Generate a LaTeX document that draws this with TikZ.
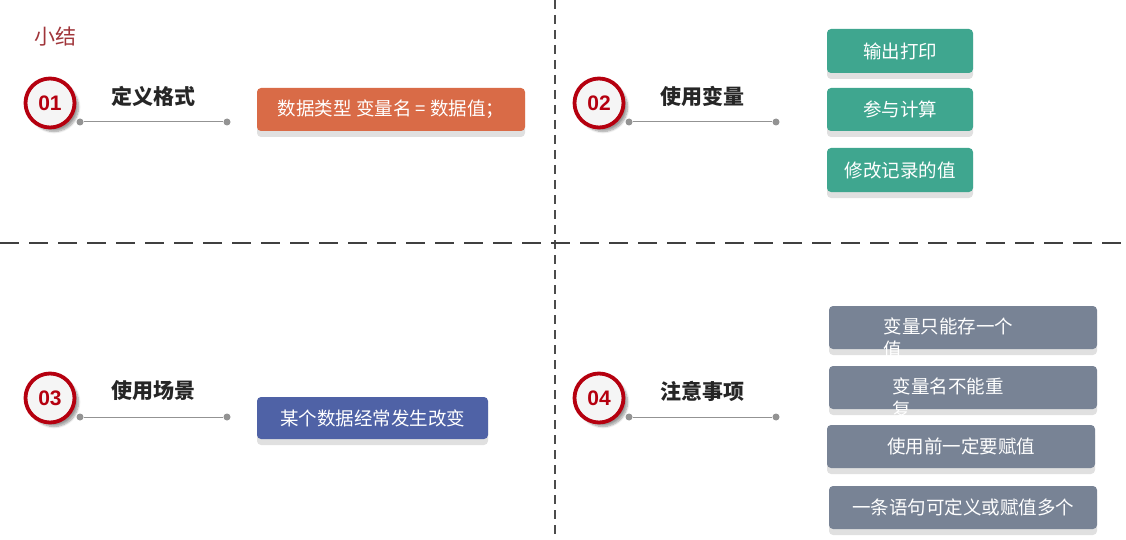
\documentclass[tikz,border=0pt]{standalone}
\usepackage{fontspec}
\setmainfont{Noto Sans CJK SC}
\newfontfamily\numfont{Liberation Sans}
\usetikzlibrary{shadows.blur}
\definecolor{ring}{HTML}{B5000F}
\definecolor{orng}{HTML}{D96B47}
\definecolor{grn}{HTML}{3FA68F}
\definecolor{blu}{HTML}{4F62A6}
\definecolor{gry}{HTML}{788395}
\definecolor{ttl}{HTML}{A0353A}
\tikzset{
 num/.style={circle,draw=ring,line width=3.8pt,fill=gray!8,minimum size=49pt,inner sep=0pt,
   font=\numfont\bfseries\fontsize{21}{21}\selectfont,text=ring,blur shadow={shadow xshift=4pt,shadow yshift=-4pt,shadow blur steps=8}},
 head/.style={font=\bfseries\fontsize{21}{21}\selectfont,text=black!85},
 dot/.style={circle,fill=gray!85,inner sep=0pt,minimum size=7pt},
 conn/.style={draw=gray!85,line width=1pt},
 box/.style={rounded corners=4pt,text=white,font=\fontsize{18.5}{18.5}\selectfont},
 shad/.style={rounded corners=4pt,fill=black!12},
}
\newcommand{\bx}[6]{% x1 y1 x2 y2 color name
 \fill[shad] (#1,#2+6) rectangle (#3,#4+6);
 \fill[box,fill=#5] (#1,#2) rectangle (#3,#4);
 \coordinate (#6) at ({(#1+#3)/2},{(#2+#4)/2});}
\begin{document}
\begin{tikzpicture}[x=1pt,y=-1pt]
\useasboundingbox (0,0) rectangle (1126,540);
\draw[black!70,line width=1.8pt,dash pattern=on 9pt off 6pt] (555,0) -- (555,540);
\draw[black!75,line width=2.6pt,dash pattern=on 19pt off 10pt] (0,243) -- (1126,243);
\node[text=ttl,font=\fontsize{21}{21}\selectfont] (t) at (55,37) {小结};
\foreach \n/\x/\y/\h in {01/50/103/定义格式,02/599/103/使用变量,03/50/398/使用场景,04/599/398/注意事项}{
 \node[num] (c\n) at (\x,\y) {\n};
 \node[head] (h\n) at (\x+103,\y-7) {\h};
 \node[dot] (a\n) at (\x+30,\y+19) {};
 \node[dot] (b\n) at (\x+177,\y+19) {};
 \draw[conn] (a\n) -- (b\n);
}
\bx{257}{88}{525}{131}{orng}{o1}
\node[box] (to1) at (o1) {数据类型 变量名 = 数据值；};
\bx{827}{29}{973}{73}{grn}{g1}
\node[box] (tg1) at (g1) {输出打印};
\bx{827}{88}{973}{131}{grn}{g2}
\node[box] (tg2) at (g2) {参与计算};
\bx{827}{148}{973}{192}{grn}{g3}
\node[box] (tg3) at (g3) {修改记录的值};
\bx{257}{397}{488}{439}{blu}{u1}
\node[box] (tu1) at (u1) {某个数据经常发生改变};
\bx{829}{306}{1097}{349}{gry}{r1}
\node[box,anchor=west] (tr1) at (880,326) {变量只能存一个};
\node[box,anchor=west] (tr1b) at (880,349) {值};
\bx{829}{366}{1097}{409}{gry}{r2}
\node[box,anchor=west] (tr2) at (889,386) {变量名不能重};
\node[box,anchor=west] (tr2b) at (889,409) {复};
\bx{827}{425}{1095}{468}{gry}{r3}
\node[box] (tr3) at (r3) {使用前一定要赋值};
\bx{829}{486}{1097}{529}{gry}{r4}
\node[box] (tr4) at (r4) {一条语句可定义或赋值多个};
\end{tikzpicture}
\end{document}
